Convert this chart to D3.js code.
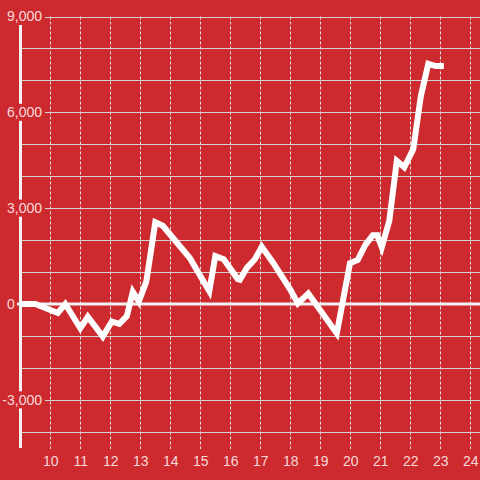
<!DOCTYPE html>
<html><head><meta charset="utf-8">
<script src="https://cdn.jsdelivr.net/npm/d3@7"></script>
<style>html,body{margin:0;padding:0;background:#cd2a2f;}svg{display:block;}</style>
</head><body>
<svg id="c" width="480" height="480"></svg>
<script>
const hours = [9.0,9.5,10.25,10.5,11.0,11.25,11.75,12.05,12.3,12.55,12.75,12.95,13.2,13.5,13.75,14.65,15.3,15.5,15.78,16.25,16.32,16.55,16.82,17.05,17.42,18.0,18.25,18.6,19.55,19.99,20.25,20.5,20.75,20.9,21.05,21.3,21.55,21.8,22.1,22.35,22.6,22.85,23.12];
const values = [0,0,-280,0,-760,-400,-1020,-550,-620,-380,380,80,700,2560,2450,1440,400,1500,1400,780,760,1130,1400,1790,1300,450,20,330,-920,1280,1380,1850,2150,2150,1780,2600,4480,4280,4850,6500,7520,7450,7450];
const yLabelTicks = [9000,6000,3000,0,-3000];
const yGridTicks = [9000,8000,7000,6000,5000,4000,3000,2000,1000,-1000,-2000,-3000,-4000];
const xTicks = [10,11,12,13,14,15,16,17,18,19,20,21,22,23,24];

const svg = d3.select('#c');
const x = d3.scaleLinear().domain([9,24]).range([20.3,470.3]);
const y = d3.scaleLinear().domain([-4500,9000]).range([447.75,16.5]);

svg.append('rect').attr('width',480).attr('height',480).attr('fill','#cd2a2f');

// vertical dashed grid
svg.append('g').selectAll('line').data(xTicks).join('line')
  .attr('x1',d=>Math.round(x(d))+0.5).attr('x2',d=>Math.round(x(d))+0.5)
  .attr('y1',y(9000)).attr('y2',449)
  .attr('stroke','#e2e2e2').attr('stroke-width',1).attr('stroke-dasharray','3,2');

// horizontal grid
svg.append('g').selectAll('line').data(yGridTicks).join('line')
  .attr('x1',20).attr('x2',480)
  .attr('y1',d=>Math.round(y(d))+0.5).attr('y2',d=>Math.round(y(d))+0.5)
  .attr('stroke','#d2d2d2').attr('stroke-width',1);

// zero line
svg.append('line').attr('x1',17).attr('x2',480).attr('y1',y(0)).attr('y2',y(0))
  .attr('stroke','#f2f2f2').attr('stroke-width',3);

// y axis line
svg.append('line').attr('x1',20.5).attr('x2',20.5).attr('y1',24).attr('y2',448)
  .attr('stroke','#f2f2f2').attr('stroke-width',3);

// y labels with background boxes
const fmt = d3.format(',');
const gl = svg.append('g');
yLabelTicks.forEach(v=>{
  const g = gl.append('g');
  const t = g.append('text').attr('x', v<0?2.3:7).attr('y', y(v)).attr('dy','0.35em')
    .attr('font-family','"Liberation Sans", Arial, sans-serif').attr('font-size',14)
    .attr('fill','#f6d8d8').text(v<0 ? '-' + fmt(-v) : fmt(v));
  const b = t.node().getBBox();
  g.insert('rect','text').attr('x',b.x-2).attr('y',y(v)-8.5)
    .attr('width',(v===0? b.width+3 : Math.max(b.width+4, 45-(b.x-2)))).attr('height',17)
    .attr('fill','#cd2a2f');
});

// x labels
svg.append('g').selectAll('text').data(xTicks).join('text')
  .attr('x',d=>x(d)+0.5).attr('y',466).attr('text-anchor','middle')
  .attr('font-family','"Liberation Sans", Arial, sans-serif').attr('font-size',14)
  .attr('fill','#f6d8d8').text(d=>d);

// data line
const pts = hours.map((h,i)=>[h,values[i]]);
svg.append('path').datum(pts)
  .attr('d', d3.line().x(d=>x(d[0])).y(d=>y(d[1])))
  .attr('fill','none').attr('stroke','#ffffff').attr('stroke-width',6)
  .attr('stroke-linejoin','miter').attr('stroke-linecap','butt');
</script>
</body></html>
